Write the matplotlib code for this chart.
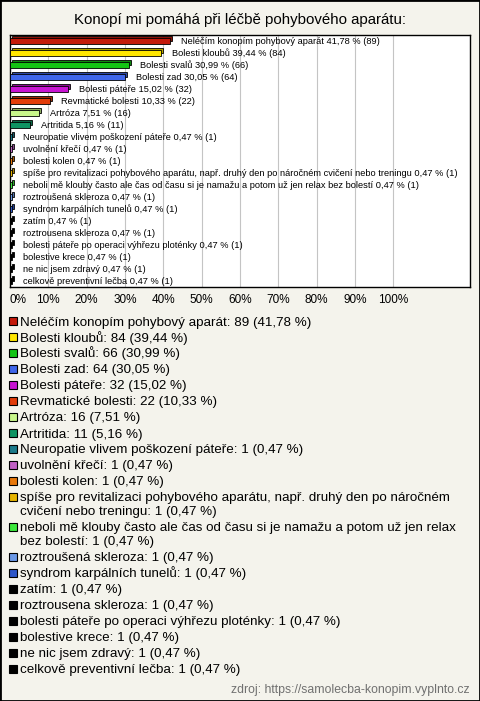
#!/usr/bin/env python

import textwrap

import matplotlib

matplotlib.use("Agg")
import matplotlib.colors as mcolors
import matplotlib.pyplot as plt
from matplotlib.patches import Rectangle

plt.rcParams["font.family"] = ["Liberation Sans", "DejaVu Sans"]

W, H = 480, 701
BG = "#F4F3EC"

title = "Konopí mi pomáhá při léčbě pohybového aparátu:"
source = "zdroj: https://samolecba-konopim.vyplnto.cz"

answers = [
    "Neléčím konopím pohybový aparát",
    "Bolesti kloubů",
    "Bolesti svalů",
    "Bolesti zad",
    "Bolesti páteře",
    "Revmatické bolesti",
    "Artróza",
    "Artritida",
    "Neuropatie vlivem poškození páteře",
    "uvolnění křečí",
    "bolesti kolen",
    "spíše pro revitalizaci pohybového aparátu, např. druhý den po náročném cvičení nebo treningu",
    "neboli mě klouby často ale čas od času si je namažu a potom už jen relax bez bolestí",
    "roztroušená skleroza",
    "syndrom karpálních tunelů",
    "zatím",
    "roztrousena skleroza",
    "bolesti páteře po operaci výhřezu ploténky",
    "bolestive krece",
    "ne nic jsem zdravý",
    "celkově preventivní lečba",
]
counts = [89, 84, 66, 64, 32, 22, 16, 11] + [1] * 13
percents = [41.78, 39.44, 30.99, 30.05, 15.02, 10.33, 7.51, 5.16] + [0.47] * 13
colors = [
    "#C41A0A", "#FFE600", "#14C414", "#3F66EA", "#C814D2", "#E23C0A",
    "#C8F68A", "#0E9462", "#1B7A8A", "#C060C4", "#E8780A", "#E6B400",
    "#3CE83C", "#6A98E6", "#2D56C8",
    "#000000", "#000000", "#000000", "#000000", "#000000", "#000000",
]
ticks = [0, 10, 20, 30, 40, 50, 60, 70, 80, 90, 100]


def fmt(p):
    return f"{p:.2f}".replace(".", ",")


def darker(c, f=0.7):
    r, g, b = mcolors.to_rgb(c)
    return (r * f, g * f, b * f)


def fx(x):
    return x / W


def fy(y):
    return 1 - y / H


fig = plt.figure(figsize=(W / 100, H / 100), dpi=100, facecolor=BG)

fig.text(fx(240), fy(20), title, ha="center", va="center", fontsize=10.8)

ax = fig.add_axes([fx(10), fy(287), fx(460), 252 / H])
ax.set_facecolor("white")
ax.set_xlim(0, 120)
ax.set_ylim(len(answers) - 0.5, -0.5)

for i, (name, n, p, c) in enumerate(zip(answers, counts, percents, colors)):
    # back face gives the flat 3d look
    ax.barh(i - 0.17, p, left=0.55, height=0.42, color=darker(c),
            edgecolor="black", linewidth=0.6, zorder=2)
    ax.barh(i, p, height=0.42, color=c, edgecolor="black",
            linewidth=0.6, zorder=3)
    ax.text(p + 2.9, i, f"{name} {fmt(p)} % ({n})", va="center",
            fontsize=6.65, zorder=4)

ax.set_xticks(ticks)
ax.set_xticklabels([f"{t}%" for t in ticks], fontsize=8.5)
ax.get_xticklabels()[0].set_ha("left")
ax.set_yticks([])
ax.tick_params(axis="x", length=0, pad=5)
ax.xaxis.grid(True, color="#C4C4C4", linewidth=0.8, zorder=1)
ax.set_axisbelow(True)
for s in ax.spines.values():
    s.set_linewidth(1)
    s.set_color("black")

# legend below the chart
y = 321
for name, n, p, c in zip(answers, counts, percents, colors):
    lines = textwrap.wrap(f"{name}: {n} ({fmt(p)} %)", width=72)
    fig.patches.append(Rectangle((fx(9), fy(y + 4)), fx(8), 8 / H,
                                 transform=fig.transFigure, facecolor=c,
                                 edgecolor="black", linewidth=0.8))
    for j, line in enumerate(lines):
        fig.text(fx(20), fy(y + 4.5), line, ha="left", va="baseline",
                 fontsize=9.6)
        if j < len(lines) - 1:
            y += 14
    y += 16

fig.text(fx(470), fy(690), source, ha="right", va="center",
         fontsize=8.8, color="#707070")

fig.patches.append(Rectangle((0, 0), 1, 1, transform=fig.transFigure,
                             fill=False, edgecolor="black", linewidth=2))

fig.savefig("out.png", dpi=100, facecolor=BG)
